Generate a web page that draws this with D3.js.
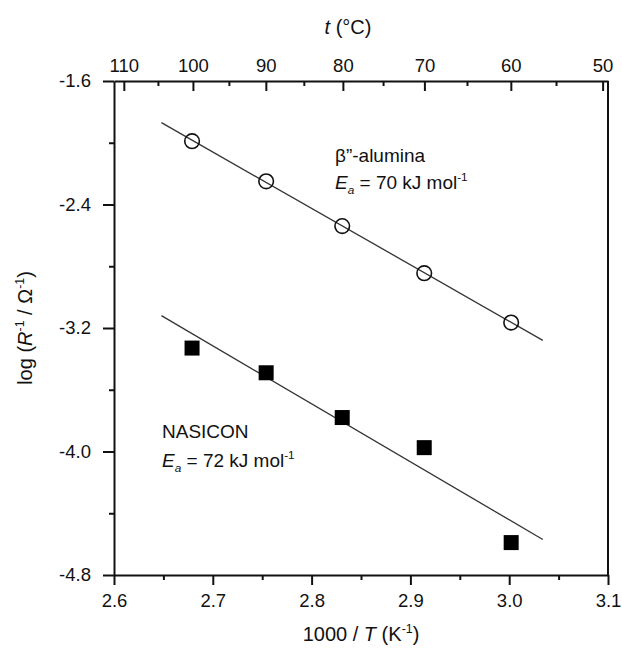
<!DOCTYPE html>
<html>
<head>
<meta charset="utf-8">
<script src="https://cdn.jsdelivr.net/npm/d3@7"></script>
<style>
  body { margin: 0; background: #fff; }
  svg { font-family: "Liberation Sans", Arial, sans-serif; }
  .axis path, .axis line { stroke: #111; stroke-width: 2; }
  .axis text { font-size: 18.5px; fill: #111; font-family: "Liberation Sans", Arial, sans-serif; }
</style>
</head>
<body>
<svg id="chart" width="622" height="651"></svg>
<script>
// values
var invT = [2.679, 2.754, 2.831, 2.914, 3.002];          // 1000/T (K-1)
var aluminaLog = [-1.99, -2.25, -2.54, -2.845, -3.165];   // beta''-alumina
var nasiconLog = [-3.33, -3.49, -3.78, -3.975, -4.59];    // NASICON
var fitX = [2.648, 3.034];
var aluminaFit = [-1.87, -3.28];
var nasiconFit = [-3.12, -4.57];

var xTicks = [2.6, 2.7, 2.8, 2.9, 3.0, 3.1];
var xMinor = [2.65, 2.75, 2.85, 2.95, 3.05];
var yTicks = [-1.6, -2.4, -3.2, -4.0, -4.8];
var yMinor = [-2.0, -2.8, -3.6, -4.4];
var tTicks = [110, 100, 90, 80, 70, 60, 50];
var tMinor = [105, 95, 85, 75, 65, 55];

// plot box (window.top is taken, so no bare "top")
var box = {l: 114, r: 608, t: 81, b: 575};

var svg = d3.select('#chart');

var x = d3.scaleLinear().domain([2.6, 3.1]).range([box.l, box.r]);
var y = d3.scaleLinear().domain([-1.6, -4.8]).range([box.t, box.b]);

function toInv(t) { return 1000 / (t + 273.15); }
// plain hyphen minus like the original, not d3's U+2212
function fmt(d) { return d.toFixed(1); }

// right frame
svg.append('line')
  .attr('x1', box.r).attr('x2', box.r)
  .attr('y1', box.t).attr('y2', box.b)
  .attr('stroke', '#111').attr('stroke-width', 2)
;

// bottom axis
svg.append('g')
  .attr('class', 'axis')
  .attr('transform', 'translate(0,' + box.b + ')')
  .call(d3.axisBottom(x).tickValues(xTicks).tickFormat(fmt)
    .tickSize(10).tickSizeOuter(0).tickPadding(9))
;
svg.append('g')
  .attr('class', 'axis')
  .attr('transform', 'translate(0,' + box.b + ')')
  .call(d3.axisBottom(x).tickValues(xMinor).tickFormat('').tickSize(5).tickSizeOuter(0))
  .call(function(g) { g.select('.domain').remove(); })
;

// left axis
svg.append('g')
  .attr('class', 'axis')
  .attr('transform', 'translate(' + box.l + ',0)')
  .call(d3.axisLeft(y).tickValues(yTicks).tickFormat(fmt)
    .tickSize(11).tickSizeOuter(0).tickPadding(12))
;
svg.append('g')
  .attr('class', 'axis')
  .attr('transform', 'translate(' + box.l + ',0)')
  .call(d3.axisLeft(y).tickValues(yMinor).tickFormat('').tickSize(5).tickSizeOuter(0))
  .call(function(g) { g.select('.domain').remove(); })
;

// top axis in degrees C, ticks pointing in
svg.append('g')
  .attr('class', 'axis')
  .attr('transform', 'translate(0,' + box.t + ')')
  .call(d3.axisTop(x).tickValues(tTicks.map(toInv))
    .tickFormat(function(d, i) { return tTicks[i]; })
    .tickSize(-10).tickSizeOuter(0).tickPadding(9))
;
svg.append('g')
  .attr('class', 'axis')
  .attr('transform', 'translate(0,' + box.t + ')')
  .call(d3.axisTop(x).tickValues(tMinor.map(toInv)).tickFormat('').tickSize(-5).tickSizeOuter(0))
  .call(function(g) { g.select('.domain').remove(); })
;

// fit lines
var fitLine = d3.line()
  .x(function(d) { return x(d[0]); })
  .y(function(d) { return y(d[1]); })
;
svg.append('path')
  .datum(d3.zip(fitX, aluminaFit))
  .attr('d', fitLine)
  .attr('fill', 'none').attr('stroke', '#333').attr('stroke-width', 1.3)
;
svg.append('path')
  .datum(d3.zip(fitX, nasiconFit))
  .attr('d', fitLine)
  .attr('fill', 'none').attr('stroke', '#333').attr('stroke-width', 1.3)
;

// points
svg.append('g')
  .selectAll('circle')
  .data(d3.zip(invT, aluminaLog))
  .join('circle')
    .attr('cx', function(d) { return x(d[0]); })
    .attr('cy', function(d) { return y(d[1]); })
    .attr('r', 7.3)
    .attr('fill', 'none')
    .attr('stroke', '#111')
    .attr('stroke-width', 1.6)
;
svg.append('g')
  .selectAll('rect')
  .data(d3.zip(invT, nasiconLog))
  .join('rect')
    .attr('x', function(d) { return x(d[0]) - 7.5; })
    .attr('y', function(d) { return y(d[1]) - 7.5; })
    .attr('width', 15)
    .attr('height', 15)
    .attr('fill', '#000')
;

// text with italic / super / subscript pieces
function label(px, py, parts, size) {
  var t = svg.append('text')
    .attr('x', px).attr('y', py)
    .attr('font-size', size).attr('fill', '#111')
  ;
  parts.forEach(function(p) {
    var s = t.append('tspan').text(p.s);
    if (p.it) s.attr('font-style', 'italic');
    if (p.sup) s.attr('font-size', size * 0.62).attr('dy', -size * 0.4);
    if (p.sub) s.attr('font-size', size * 0.62).attr('dy', size * 0.25);
    if (p.back) s.attr('dy', p.back);
  });
  return t;
}

label(335, 162, [{s: '\u03b2\u201d-alumina'}], 19);
label(335, 189, [{s: 'E', it: true}, {s: 'a', it: true, sub: true},
  {s: ' = 70 kJ mol', back: -19 * 0.25}, {s: '-1', sup: true}], 19);
label(162, 438, [{s: 'NASICON'}], 19);
label(162, 467, [{s: 'E', it: true}, {s: 'a', it: true, sub: true},
  {s: ' = 72 kJ mol', back: -19 * 0.25}, {s: '-1', sup: true}], 19);

// axis titles
label(348, 34, [{s: 't', it: true}, {s: ' (\u00b0C)'}], 20)
  .attr('text-anchor', 'middle');
label(361, 641, [{s: '1000 / '}, {s: 'T', it: true}, {s: ' (K'},
  {s: '-1', sup: true}, {s: ')', back: 20 * 0.4}], 20)
  .attr('text-anchor', 'middle');
label(0, 0, [{s: 'log ('}, {s: 'R', it: true}, {s: '-1', sup: true},
  {s: ' / \u03a9', back: 20 * 0.4}, {s: '-1', sup: true}, {s: ')', back: 20 * 0.4}], 20)
  .attr('text-anchor', 'middle')
  .attr('transform', 'translate(32,' + ((box.t + box.b) / 2) + ') rotate(-90)');
</script>
</body>
</html>
